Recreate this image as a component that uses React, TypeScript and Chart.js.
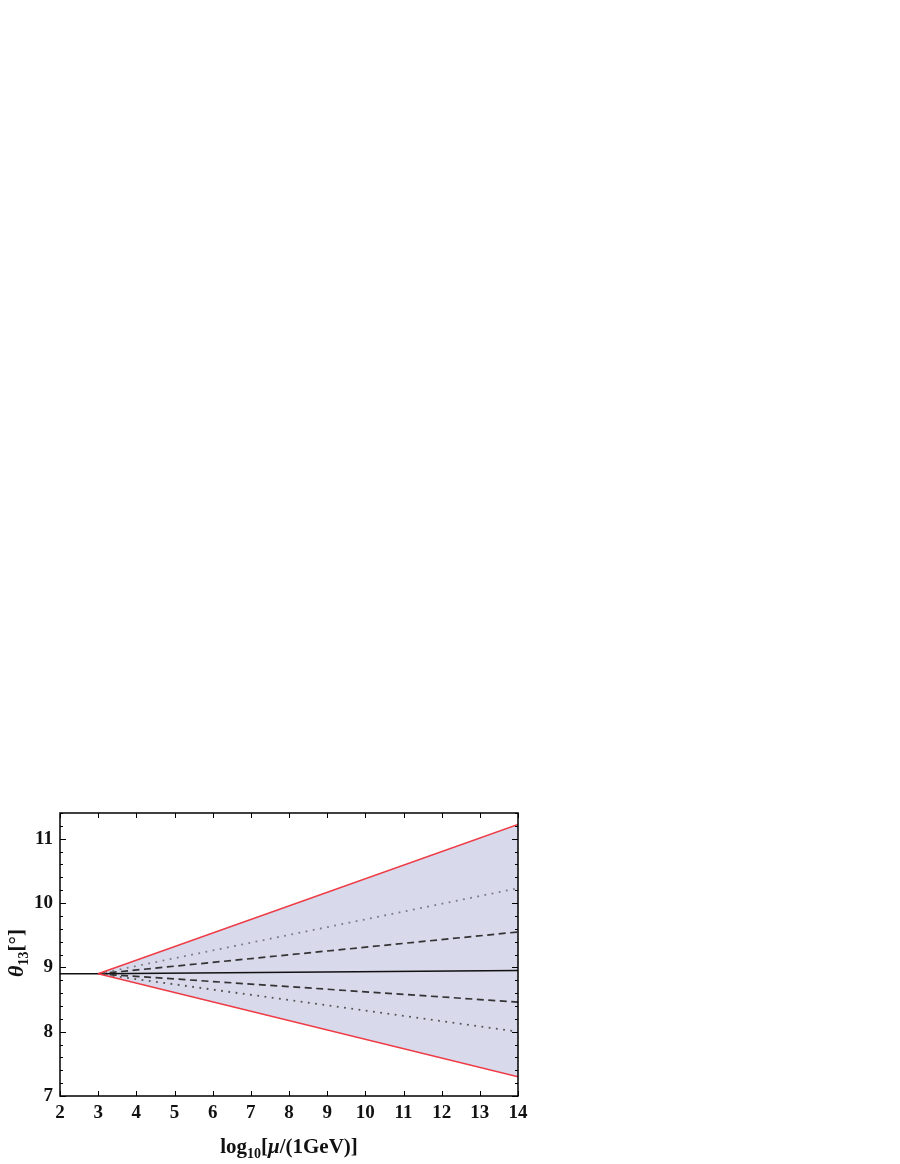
import React, { useEffect, useRef } from "react";
import { Chart, registerables } from "chart.js";

Chart.register(...registerables);

// Data
const centralX = [2, 3, 14];
const centralY = [8.9, 8.9, 8.95];
const bandX = [3, 14];
const upperRedY = [8.9, 11.22];
const lowerRedY = [8.9, 7.3];
const upperDotY = [8.9, 10.23];
const upperDashY = [8.9, 9.55];
const lowerDashY = [8.9, 8.46];
const lowerDotY = [8.9, 8.0];
const xTicks = [2, 3, 4, 5, 6, 7, 8, 9, 10, 11, 12, 13, 14];
const yTicks = [7, 8, 9, 10, 11];

const pts = (xs: number[], ys: number[]) => xs.map((x, i) => ({ x, y: ys[i] }));

const SERIF = "'Liberation Serif', 'Times New Roman', serif";

const decorPlugin = {
  id: "decor",
  afterDatasetsDraw(chart: any) {
    const { ctx, chartArea: a, scales } = chart;
    const xs = scales.x;
    const ys = scales.y;
    ctx.save();
    ctx.strokeStyle = "#000";
    ctx.lineWidth = 1;
    // x ticks (bottom and top, inward)
    for (const v of xTicks) {
      const px = Math.round(xs.getPixelForValue(v)) + 0.5;
      ctx.beginPath();
      ctx.moveTo(px, a.bottom);
      ctx.lineTo(px, a.bottom - 5);
      ctx.moveTo(px, a.top);
      ctx.lineTo(px, a.top + 5);
      ctx.stroke();
    }
    // y ticks, major and minor
    for (let i = 0; i <= 22; i++) {
      const v = 7 + i * 0.2;
      const major = i % 5 === 0;
      const len = major ? 6 : 3;
      const py = Math.round(ys.getPixelForValue(v)) + 0.5;
      ctx.beginPath();
      ctx.moveTo(a.left, py);
      ctx.lineTo(a.left + len, py);
      ctx.moveTo(a.right, py);
      ctx.lineTo(a.right - len, py);
      ctx.stroke();
    }
    // frame
    ctx.lineWidth = 1.5;
    ctx.strokeRect(a.left, a.top, a.right - a.left, a.bottom - a.top);

    // x title
    ctx.fillStyle = "#111";
    ctx.textBaseline = "alphabetic";
    const parts: [string, string, number][] = [
      ["log", `bold 21px ${SERIF}`, 0],
      ["10", `bold 14px ${SERIF}`, 5],
      ["[", `bold 21px ${SERIF}`, 0],
      ["\u03bc", `italic bold 21px ${SERIF}`, 0],
      ["/(1GeV)]", `bold 21px ${SERIF}`, 0],
    ];
    let total = 0;
    for (const [t, f] of parts) {
      ctx.font = f;
      total += ctx.measureText(t).width;
    }
    let cx = (a.left + a.right) / 2 - total / 2;
    const baseY = 1153;
    for (const [t, f, dy] of parts) {
      ctx.font = f;
      ctx.fillText(t, cx, baseY + dy);
      cx += ctx.measureText(t).width;
    }

    // y title (rotated)
    const yparts: [string, string, number][] = [
      ["\u03b8", `italic bold 22px ${SERIF}`, 0],
      ["13", `bold 14px ${SERIF}`, 5],
      ["[\u00b0]", `bold 21px ${SERIF}`, 0],
    ];
    let ytotal = 0;
    for (const [t, f] of yparts) {
      ctx.font = f;
      ytotal += ctx.measureText(t).width;
    }
    ctx.translate(23, 953);
    ctx.rotate(-Math.PI / 2);
    let yx = -ytotal / 2;
    for (const [t, f, dy] of yparts) {
      ctx.font = f;
      ctx.fillText(t, yx, dy);
      yx += ctx.measureText(t).width;
    }
    ctx.restore();
  },
};

export default function App() {
  const ref = useRef<HTMLCanvasElement | null>(null);
  useEffect(() => {
    if (!ref.current) return;
    const lineBase = { pointRadius: 0, borderWidth: 1.5, tension: 0, fill: false };
    const chart = new Chart(ref.current, {
      type: "line",
      data: {
        datasets: [
          {
            ...lineBase,
            data: pts(bandX, upperRedY),
            borderColor: "#ee3b45",
            fill: { target: 1 },
            backgroundColor: "#d9d9ec",
          },
          { ...lineBase, data: pts(bandX, lowerRedY), borderColor: "#ee3b45" },
          { ...lineBase, borderWidth: 1.8, data: pts(bandX, upperDotY), borderColor: "#7a7a84", borderDash: [1.8, 5.5] },
          { ...lineBase, borderWidth: 1.7, data: pts(bandX, upperDashY), borderColor: "#333", borderDash: [7, 4.5] },
          { ...lineBase, borderWidth: 1.7, data: pts(bandX, lowerDashY), borderColor: "#333", borderDash: [7, 4.5] },
          { ...lineBase, borderWidth: 1.8, data: pts(bandX, lowerDotY), borderColor: "#555", borderDash: [1.8, 5.5] },
          { ...lineBase, data: pts(centralX, centralY), borderColor: "#111" },
        ],
      },
      options: {
        responsive: false,
        animation: false,
        events: [],
        layout: { padding: { left: 0, top: 813, right: 382, bottom: 0 } },
        plugins: {
          legend: { display: false },
          tooltip: { enabled: false },
          filler: { drawTime: "beforeDatasetsDraw" },
        },
        scales: {
          x: {
            type: "linear",
            min: 2,
            max: 14,
            afterBuildTicks: (s: any) => {
              s.ticks = xTicks.map((v) => ({ value: v }));
            },
            afterFit: (s: any) => {
              s.height = 68;
            },
            ticks: {
              autoSkip: false,
              maxRotation: 0,
              padding: 6,
              color: "#111",
              font: { family: SERIF, size: 19, weight: "bold" },
            },
            grid: { display: false, drawTicks: false },
            border: { display: false },
          },
          y: {
            type: "linear",
            min: 7,
            max: 11.4,
            afterBuildTicks: (s: any) => {
              s.ticks = yTicks.map((v) => ({ value: v }));
            },
            afterFit: (s: any) => {
              s.width = 60;
            },
            ticks: {
              autoSkip: false,
              padding: 7,
              color: "#111",
              font: { family: SERIF, size: 19, weight: "bold" },
            },
            grid: { display: false, drawTicks: false },
            border: { display: false },
          },
        },
      },
      plugins: [decorPlugin],
    } as any);
    return () => chart.destroy();
  }, []);
  return (
    <canvas
      ref={ref}
      width={900}
      height={1164}
      style={{ position: "absolute", left: 0, top: 0, width: 900, height: 1164 }}
    />
  );
}
